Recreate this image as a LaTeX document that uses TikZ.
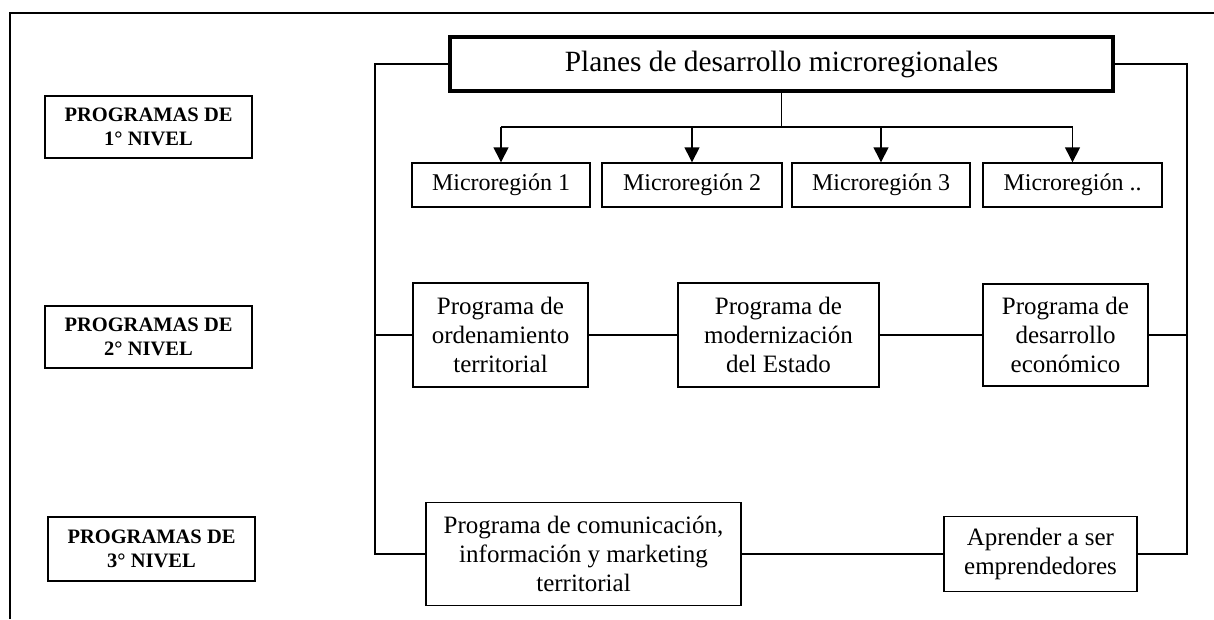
\documentclass[tikz,border=0pt]{standalone}
\usepackage{fontspec}
\setmainfont{Liberation Serif}
\usetikzlibrary{arrows.meta}
\begin{document}
\begin{tikzpicture}[x=1pt,y=-1pt,
  box/.style={draw, line width=1.4pt, inner sep=0pt, align=center,
    font=\fontsize{25}{29}\selectfont},
  microbox/.style={box, minimum height=44pt, font=\fontsize{24}{28}\selectfont},
  levelbox/.style={box, minimum width=207pt, minimum height=62pt,
    font=\fontsize{20.5}{24}\selectfont\bfseries},
  conn/.style={line width=1.4pt},
  arr/.style={line width=1.4pt, -{Triangle[width=15pt,length=15pt]}}
]
\useasboundingbox (0,0) rectangle (1214,619);
% partial frame
\draw[line width=1.4pt] (10,619) -- (10,13) -- (1214,13);

% level labels
\node[levelbox] (l1) at (148.5,127) {PROGRAMAS DE\\1° NIVEL};
\node[levelbox] (l2) at (148.5,337) {PROGRAMAS DE\\2° NIVEL};
\node[levelbox, minimum height=64pt] (l3) at (151.5,549) {PROGRAMAS DE\\3° NIVEL};

% top box
\node[box, line width=3.6pt, minimum width=663pt, minimum height=54pt,
  font=\fontsize{29.4}{34}\selectfont] (plan) at (781.5,64) {Planes de desarrollo microregionales};

% micro regions
\node[microbox, minimum width=178pt] (m1) at (501,185) {Microregión 1};
\node[microbox, minimum width=180pt] (m2) at (692,185) {Microregión 2};
\node[microbox, minimum width=178pt] (m3) at (881,185) {Microregión 3};
\node[microbox, minimum width=179pt] (m4) at (1072.5,185) {Microregión ..};

% second level
\node[box, minimum width=175pt, minimum height=104pt] (ord) at (500.5,335) {Programa de\\ordenamiento\\territorial};
\node[box, minimum width=201pt, minimum height=104pt] (mod) at (778.5,335) {Programa de\\modernización\\del Estado};
\node[box, minimum width=165pt, minimum height=102pt] (eco) at (1065.5,335) {Programa de\\desarrollo\\económico};

% third level
\node[box, minimum width=315pt, minimum height=103pt] (com) at (583.5,554) {Programa de comunicación,\\información y marketing\\territorial};
\node[box, minimum width=193pt, minimum height=75pt] (apr) at (1040.5,554) {Aprender a ser\\emprendedores};

% connector coordinates
\coordinate (br) at (781.5,127);
\coordinate (lx) at (375,0);
\coordinate (rx) at (1187,0);

% branch to micro regions
\draw[conn] (plan.south) -- (br);
\draw[conn] (m1.north |- br) -- (m4.north |- br);
\draw[arr] (m1.north |- br) -- (m1.north);
\draw[arr] (m2.north |- br) -- (m2.north);
\draw[arr] (m3.north |- br) -- (m3.north);
\draw[arr] (m4.north |- br) -- (m4.north);

% left and right loops
\draw[conn] (plan.west) -| (lx |- com.west) -- (com.west);
\draw[conn] (lx |- ord.west) -- (ord.west);
\draw[conn] (plan.east) -| (rx |- apr.east) -- (apr.east);
\draw[conn] (eco.east) -- (rx |- eco.east);

% horizontal links
\draw[conn] (ord) -- (mod);
\draw[conn] (mod) -- (eco);
\draw[conn] (com) -- (apr);
\end{tikzpicture}
\end{document}
